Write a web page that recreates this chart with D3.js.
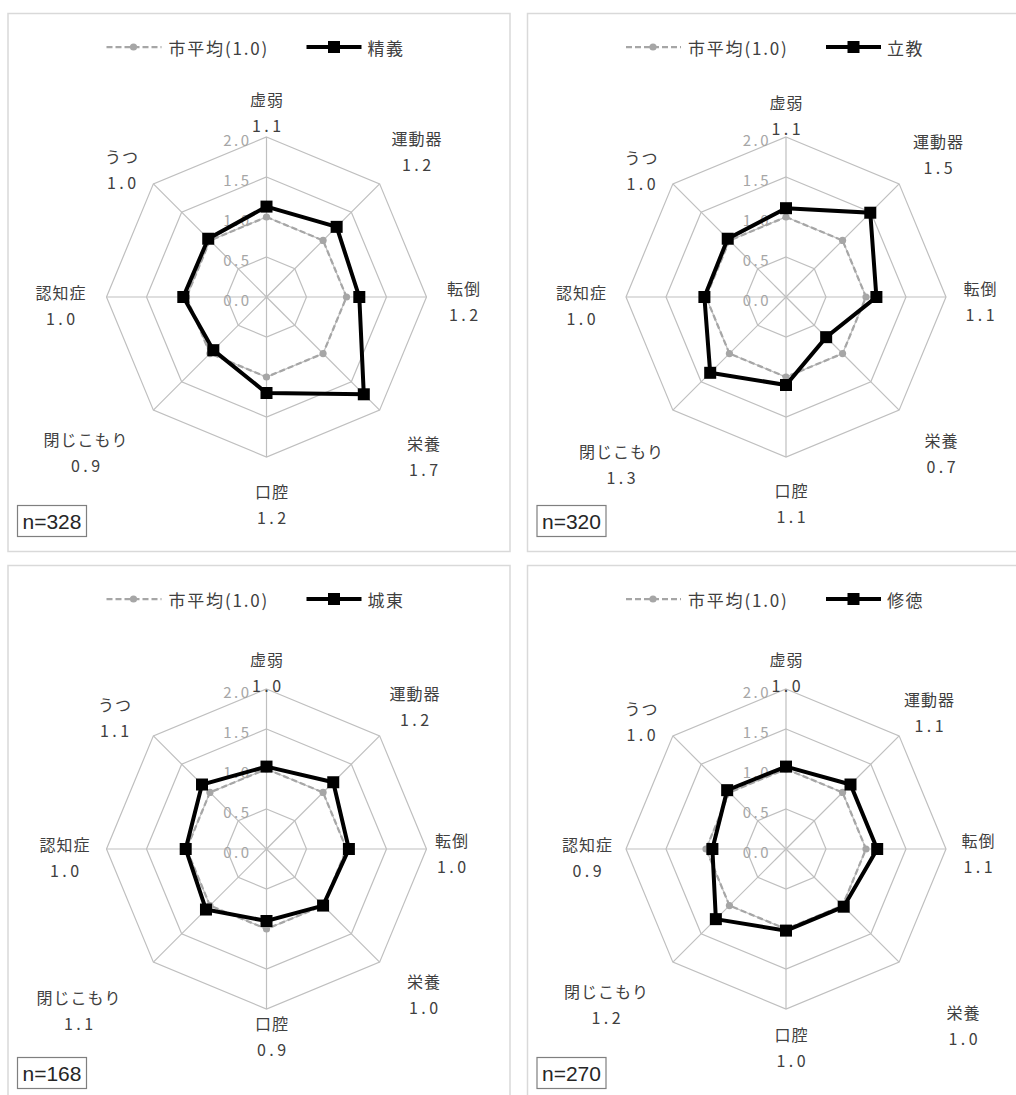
<!DOCTYPE html>
<html lang="ja">
<head>
<meta charset="utf-8">
<script src="https://cdn.jsdelivr.net/npm/d3@7"></script>
<style>
  html, body { margin: 0; padding: 0; background: #fff; }
  svg { display: block; }
  text { font-family: "Noto Sans CJK JP", "Noto Sans", sans-serif; }
</style>
</head>
<body>
<svg id="chart" width="1016" height="1095"></svg>
<script>
// ---------------- data ----------------
const categories = ["虚弱", "運動器", "転倒", "栄養", "口腔", "閉じこもり", "認知症", "うつ"];
const districts = ["精義", "立教", "城東", "修徳"];
const sampleSizes = [328, 320, 168, 270];
const averageLabel = "市平均(1.0)";
const cityAverage = [1.0, 1.0, 1.0, 1.0, 1.0, 1.0, 1.0, 1.0];
const seigiValues    = [1.13, 1.24, 1.16, 1.72, 1.20, 0.94, 1.04, 1.03];
const rikkyoValues   = [1.11, 1.49, 1.13, 0.71, 1.10, 1.34, 1.02, 1.03];
const jotoValues     = [1.03, 1.18, 1.03, 1.00, 0.90, 1.07, 1.01, 1.14];
const shutokuValues  = [1.03, 1.14, 1.14, 1.02, 1.02, 1.24, 0.92, 1.04];
const districtValues = [seigiValues, rikkyoValues, jotoValues, shutokuValues];
const tickValues = [0.0, 0.5, 1.0, 1.5, 2.0];
const tickLabels = ["0.0", "0.5", "1.0", "1.5", "2.0"];

// ---------------- layout (not data) ----------------
const panelOrigins = [[0, 0], [519.5, 0], [0, 552], [519.5, 552]];
const localCenter = [266.5, 297];
const maxRadius = 160;
// per-panel category label nudges (Excel auto layout), relative to centre
const labelLayout = [
  [[0,-185],[150,-146],[197,4],[157,159],[5,207],[-181,155],[-206,8],[-145,-128]],
  [[0,-182],[152,-143],[194,4],[155,156],[5,206],[-165,167],[-205,8],[-145,-127]],
  [[0,-177],[148,-143],[185,4],[157,145],[5,187],[-188,161],[-202,8],[-152,-132]],
  [[0,-177],[143,-137],[192,4],[177,176],[5,198],[-180,155],[-199,8],[-145,-128]]
];

const svg = d3.select("#chart");
const r = d3.scaleLinear().domain([0, 2]).range([0, maxRadius]);
const angle = d3.scalePoint().domain(d3.range(categories.length + 1)).range([0, 2 * Math.PI]);
const fmt = d3.format(".1f");
const polar = (i, v) => {
  const a = angle(i);
  return [Math.sin(a) * r(v), -Math.cos(a) * r(v)];
};
const lineClosed = d3.line().curve(d3.curveLinearClosed);

districts.forEach((name, p) => {
  const [ox, oy] = panelOrigins[p];
  const g = svg.append("g").attr("transform", `translate(${ox},${oy})`);

  // panel frame
  g.append("rect")
    .attr("x", 8).attr("y", 13.5)
    .attr("width", 502).attr("height", 538)
    .attr("fill", "none").attr("stroke", "#d9d9d9").attr("stroke-width", 1.5);

  const c = g.append("g").attr("transform", `translate(${localCenter[0]},${localCenter[1]})`);

  // grid rings
  tickValues.filter(t => t > 0).forEach(t => {
    c.append("path")
      .attr("d", lineClosed(categories.map((_, i) => polar(i, t))))
      .attr("fill", "none").attr("stroke", "#bfbfbf").attr("stroke-width", 1.2);
  });
  // spokes
  categories.forEach((_, i) => {
    const [x, y] = polar(i, d3.max(tickValues));
    c.append("line").attr("x1", 0).attr("y1", 0).attr("x2", x).attr("y2", y)
      .attr("stroke", "#bfbfbf").attr("stroke-width", 1.2);
  });
  // tick labels
  tickValues.forEach((t, k) => {
    c.append("text")
      .attr("x", -15).attr("y", -r(t) + 2)
      .attr("text-anchor", "end").attr("dominant-baseline", "central")
      .attr("font-size", 15).attr("letter-spacing", 2.5)
      .attr("fill", "#a6a6a6").text(tickLabels[k]);
  });

  // city average series
  c.append("path")
    .attr("d", lineClosed(cityAverage.map((v, i) => polar(i, v))))
    .attr("fill", "none").attr("stroke", "#a6a6a6").attr("stroke-width", 2.25)
    .attr("stroke-dasharray", "6,3");
  c.selectAll(".avgDot").data(cityAverage).enter().append("circle")
    .attr("cx", (v, i) => polar(i, v)[0]).attr("cy", (v, i) => polar(i, v)[1])
    .attr("r", 3.6).attr("fill", "#a6a6a6");

  // district series
  const vals = districtValues[p];
  c.append("path")
    .attr("d", lineClosed(vals.map((v, i) => polar(i, v))))
    .attr("fill", "none").attr("stroke", "#000").attr("stroke-width", 4)
    .attr("stroke-linejoin", "miter");
  c.selectAll(".sq").data(vals).enter().append("rect")
    .attr("x", (v, i) => polar(i, v)[0] - 6).attr("y", (v, i) => polar(i, v)[1] - 6)
    .attr("width", 12).attr("height", 12).attr("fill", "#000");

  // category labels
  categories.forEach((cat, i) => {
    const [dx, dy] = labelLayout[p][i];
    c.append("text").attr("x", dx + 0.5).attr("y", dy - 13)
      .attr("text-anchor", "middle").attr("dominant-baseline", "central")
      .attr("font-size", 16).attr("fill", "#404040").attr("letter-spacing", 1)
      .text(cat);
    c.append("text").attr("x", dx + 1.75).attr("y", dy + 13)
      .attr("text-anchor", "middle").attr("dominant-baseline", "central")
      .attr("font-size", 16).attr("fill", "#404040").attr("letter-spacing", 3.5)
      .text(fmt(vals[i]));
  });

  // legend
  const ly = -250;
  c.append("line").attr("x1", -160).attr("x2", -105).attr("y1", ly).attr("y2", ly)
    .attr("stroke", "#a6a6a6").attr("stroke-width", 2.25).attr("stroke-dasharray", "6,3");
  c.append("circle").attr("cx", -133).attr("cy", ly).attr("r", 3.6).attr("fill", "#a6a6a6");
  c.append("text").attr("x", -98).attr("y", ly).attr("dominant-baseline", "central")
    .attr("font-size", 17).attr("letter-spacing", 1.8).attr("fill", "#404040").text(averageLabel);
  c.append("line").attr("x1", 40).attr("x2", 95).attr("y1", ly).attr("y2", ly)
    .attr("stroke", "#000").attr("stroke-width", 4);
  c.append("rect").attr("x", 61.5).attr("y", ly - 6).attr("width", 12).attr("height", 12).attr("fill", "#000");
  c.append("text").attr("x", 101).attr("y", ly).attr("dominant-baseline", "central")
    .attr("font-size", 17).attr("letter-spacing", 1.5).attr("fill", "#404040").text(name);

  // sample size box
  g.append("rect").attr("x", 17.5).attr("y", 505.5).attr("width", 69).attr("height", 31)
    .attr("fill", "#fff").attr("stroke", "#7f7f7f").attr("stroke-width", 1.2);
  g.append("text").attr("x", 52).attr("y", 521.5)
    .attr("text-anchor", "middle").attr("dominant-baseline", "central")
    .style("font-family", "'Liberation Sans', Arial, sans-serif")
    .attr("font-size", 21).attr("fill", "#262626").text("n=" + sampleSizes[p]);
});
</script>
</body>
</html>
